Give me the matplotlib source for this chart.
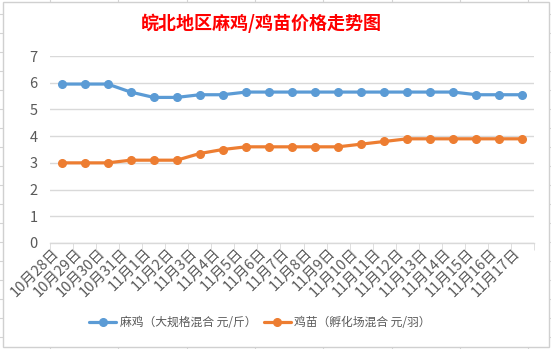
import numpy as np
import matplotlib
matplotlib.use('Agg')
import matplotlib.pyplot as plt
from matplotlib.lines import Line2D
from matplotlib.patches import Rectangle

plt.rcParams['font.family'] = ['Noto Sans CJK SC', 'DejaVu Sans']

# data
dates = ['10月28日', '10月29日', '10月30日', '10月31日', '11月1日', '11月2日', '11月3日',
         '11月4日', '11月5日', '11月6日', '11月7日', '11月8日', '11月9日', '11月10日',
         '11月11日', '11月12日', '11月13日', '11月14日', '11月15日', '11月16日', '11月17日']
maji = [5.95, 5.95, 5.95, 5.65, 5.45, 5.45, 5.55, 5.55, 5.65, 5.65, 5.65,
        5.65, 5.65, 5.65, 5.65, 5.65, 5.65, 5.65, 5.55, 5.55, 5.55]
jimiao = [3.0, 3.0, 3.0, 3.1, 3.1, 3.1, 3.35, 3.5, 3.6, 3.6, 3.6,
          3.6, 3.6, 3.7, 3.8, 3.9, 3.9, 3.9, 3.9, 3.9, 3.9]
yticks = [0, 1, 2, 3, 4, 5, 6, 7]

label_maji = '麻鸡（大规格混合 元/斤）'
label_jimiao = '鸡苗（孵化场混合 元/羽）'
title = '皖北地区麻鸡/鸡苗价格走势图'

W, H = 551, 349
fig = plt.figure(figsize=(W / 100, H / 100), dpi=100)

def fx(px):
    return px / W

def fy(py):
    return 1 - py / H

# spreadsheet cells behind the chart
for k in range(8):
    x = 50 + 68.33 * k
    fig.add_artist(Line2D([fx(x), fx(x)], [0, 1], color='#d4d4d4', lw=0.8, zorder=-3))
for k in range(19):
    y = 14 + 19 * k
    fig.add_artist(Line2D([0, 1], [fy(y), fy(y)], color='#d4d4d4', lw=0.8, zorder=-3))

# chart area
fig.add_artist(Rectangle((fx(2.5), fy(347)), fx(546), 345 / H, facecolor='white',
                         edgecolor='#d0d0d0', lw=1.0, zorder=-2))

ax = fig.add_axes([fx(50), fy(243), fx(484), 187 / H])
ax.set_facecolor('none')

x = np.arange(len(dates))
ax.plot(x, maji, color='#5B9BD5', lw=2.3, marker='o', markersize=5.5, label=label_maji,
        solid_capstyle='round', zorder=3)
ax.plot(x, jimiao, color='#ED7D31', lw=2.3, marker='o', markersize=5.5, label=label_jimiao,
        solid_capstyle='round', zorder=3)

ax.set_xlim(-0.5, len(dates) - 0.5)
ax.set_ylim(0, 7)
ax.set_yticks(yticks)
ax.grid(axis='y', color='#d9d9d9', lw=1)
ax.set_axisbelow(True)

for s in ['top', 'right', 'left']:
    ax.spines[s].set_visible(False)
ax.spines['bottom'].set_color('#d9d9d9')
ax.spines['bottom'].set_linewidth(1)

ax.set_xticks(x)
ax.set_xticklabels(dates, rotation=45, ha='right', va='top', rotation_mode='default')
ax.set_xticks(np.arange(len(dates) + 1) - 0.5, minor=True)
ax.tick_params(axis='x', which='major', length=0, pad=2, labelsize=10.5, labelcolor='#595959')
ax.tick_params(axis='x', which='minor', length=5, color='#d9d9d9')
ax.tick_params(axis='y', length=0, pad=9, labelsize=10.5, labelcolor='#595959')

fig.text(fx(261), fy(23), title, color='red', fontsize=13, fontweight='bold',
         ha='center', va='center')

fig.legend(loc='center', bbox_to_anchor=(fx(260), fy(323)), ncol=2, frameon=False,
           fontsize=8.5, handlelength=2.3, handletextpad=0.3, columnspacing=0.6,
           labelcolor='#595959')

fig.savefig('out.png', dpi=100)
